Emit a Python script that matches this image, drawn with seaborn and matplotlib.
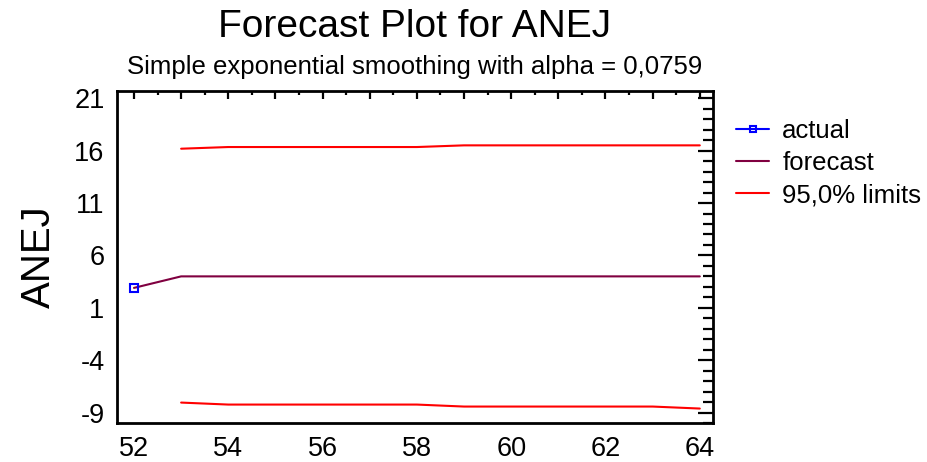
import matplotlib
matplotlib.use("Agg")
import matplotlib.pyplot as plt
import seaborn as sns
import pandas as pd
from matplotlib.ticker import MultipleLocator, FixedLocator, FuncFormatter

sns.set_theme(style="white")
plt.rcParams['font.family'] = ['Liberation Sans', 'DejaVu Sans']
plt.rcParams['axes.unicode_minus'] = False
plt.rcParams['text.color'] = 'black'
plt.rcParams['axes.labelcolor'] = 'black'

# Data
actual_period = [52]
actual_values = [2.9]
forecast_period = [52, 53, 54, 55, 56, 57, 58, 59, 60, 61, 62, 63, 64]
forecast_values = [2.9, 4.0, 4.0, 4.0, 4.0, 4.0, 4.0, 4.0, 4.0, 4.0, 4.0, 4.0, 4.0]
limit_period = [53, 54, 55, 56, 57, 58, 59, 60, 61, 62, 63, 64]
upper_limits = [16.19, 16.35, 16.35, 16.35, 16.35, 16.35, 16.51, 16.51, 16.51, 16.51, 16.51, 16.51]
lower_limits = [-8.05, -8.24, -8.24, -8.24, -8.24, -8.24, -8.43, -8.43, -8.43, -8.43, -8.43, -8.62]
y_ticks = [-9, -4, 1, 6, 11, 16, 21]
x_ticks = [52, 54, 56, 58, 60, 62, 64]

df_f = pd.DataFrame({"period": forecast_period, "value": forecast_values})
df_u = pd.DataFrame({"period": limit_period, "value": upper_limits})
df_l = pd.DataFrame({"period": limit_period, "value": lower_limits})
df_a = pd.DataFrame({"period": actual_period, "value": actual_values})

fig = plt.figure(figsize=(9.27, 4.62), dpi=100)
ax = fig.add_axes([117/927, 1 - 423/462, 596/927, 332/462])

sns.lineplot(data=df_f, x="period", y="value", ax=ax, color="#800040", lw=1.5, label="forecast")
sns.lineplot(data=df_u, x="period", y="value", ax=ax, color="#ff0000", lw=1.5, label="95,0% limits")
sns.lineplot(data=df_l, x="period", y="value", ax=ax, color="#ff0000", lw=1.5, label="_nolegend_")
sns.lineplot(data=df_a, x="period", y="value", ax=ax, color="#0000ff", lw=1.5, marker="s",
             markersize=6, markerfacecolor="none", markeredgecolor="#0000ff", markeredgewidth=1.5,
             label="actual")

ax.set_xlim(51.64, 64.28)
ax.set_ylim(-10.0, 21.7)

ax.xaxis.set_major_locator(MultipleLocator(1))
ax.xaxis.set_minor_locator(MultipleLocator(0.5))
ax.xaxis.set_major_formatter(FuncFormatter(lambda v, p: f"{int(round(v))}" if int(round(v)) in x_ticks else ""))
ax.yaxis.set_major_locator(FixedLocator(y_ticks))
ax.yaxis.set_minor_locator(MultipleLocator(1))

ax.tick_params(axis="both", which="both", direction="in", top=True, right=True, colors="black",
               labelsize=19.5)
ax.tick_params(axis="y", which="major", length=11, width=1.6, pad=9)
ax.tick_params(axis="y", which="minor", length=7, width=1.6)
ax.tick_params(axis="x", which="major", length=6, width=1.6, pad=9)
ax.tick_params(axis="x", which="minor", length=3, width=1.6)
ax.tick_params(labelcolor="black")

for s in ax.spines.values():
    s.set_color("black")
    s.set_linewidth(2)

ax.set_xlabel("")
ax.set_ylabel("ANEJ", fontsize=29, labelpad=12, color="black")

fig.text(415/927, 1 - 37/462, "Forecast Plot for ANEJ", ha="center", va="baseline", fontsize=28,
         color="black")
fig.text(415/927, 1 - 74/462, "Simple exponential smoothing with alpha = 0,0759", ha="center",
         va="baseline", fontsize=18.5, color="black")

handles, labels = ax.get_legend_handles_labels()
order = [labels.index("actual"), labels.index("forecast"), labels.index("95,0% limits")]
leg = ax.legend([handles[i] for i in order], [labels[i] for i in order],
                loc="upper left", bbox_to_anchor=(736/927, 1 - 119/462), bbox_transform=fig.transFigure,
                frameon=False, fontsize=18.5, handlelength=1.3, handletextpad=0.5,
                labelspacing=0.32, borderaxespad=0, borderpad=0)
for t in leg.get_texts():
    t.set_color("black")
for h in leg.legend_handles:
    try:
        h.set_markersize(5)
    except Exception:
        pass

fig.savefig("out.png", dpi=100)
